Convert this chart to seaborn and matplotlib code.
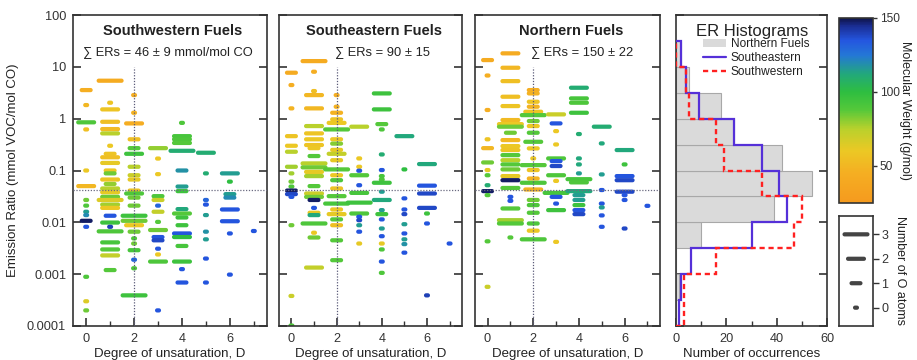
import numpy as np
import pandas as pd
import matplotlib
matplotlib.use("Agg")
import matplotlib.pyplot as plt
import seaborn as sns
from matplotlib.path import Path
from matplotlib.colors import LinearSegmentedColormap, Normalize
from matplotlib.ticker import FixedLocator, NullLocator, FuncFormatter
from matplotlib.lines import Line2D
from matplotlib.patches import Patch

# ---------------- data ----------------
# Southwestern fuels: degree of unsaturation, emission ratio, molecular weight, number of O atoms
SW_D = [0]*15 + [1]*28 + [2]*23 + [3]*15 + [4]*18 + [5]*9 + [6]*8 + [7]
SW_ER = [3.56, 1.83, 0.85, 0.62, 0.10, 0.050, 0.027, 0.021, 0.016, 0.0138, 0.0107, 0.0082, 0.00089, 0.00030, 0.00020,
         5.4, 2.03, 1.51, 0.87, 0.63, 0.52, 0.30, 0.21, 0.18, 0.14, 0.10, 0.088, 0.067, 0.055, 0.045, 0.038, 0.031,
         0.027, 0.022, 0.019, 0.0134, 0.0099, 0.0082, 0.0067, 0.0041, 0.0030, 0.0023, 0.0012,
         2.85, 1.30, 0.81, 0.40, 0.27, 0.21, 0.118, 0.081, 0.067, 0.041, 0.036, 0.030, 0.021, 0.0134, 0.0107,
         0.0088, 0.0066, 0.0049, 0.0039, 0.0029, 0.0019, 0.0013, 0.00039,
         0.27, 0.17, 0.085, 0.032, 0.027, 0.021, 0.016, 0.0102, 0.0071, 0.0052, 0.0045, 0.0031, 0.0024, 0.00175, 0.00020,
         0.83, 0.46, 0.40, 0.34, 0.24, 0.10, 0.049, 0.040, 0.018, 0.0148, 0.0124, 0.0088, 0.0061, 0.0052, 0.0035,
         0.00175, 0.00125, 0.00069,
         0.22, 0.088, 0.027, 0.022, 0.0138, 0.0066, 0.0047, 0.0020, 0.00069,
         0.088, 0.061, 0.035, 0.030, 0.0177, 0.0105, 0.0061, 0.00098,
         0.0068]
SW_MW = [45, 50, 90, 55, 60, 50, 85, 90, 115, 120, 148, 135, 90, 65, 85,
         42, 58, 58, 55, 52, 75, 60, 58, 55, 62, 60, 85, 58, 80, 75, 62, 85, 65, 78, 60, 135, 95, 140, 90, 92, 88, 72, 88,
         45, 47, 44, 55, 88, 95, 75, 70, 62, 58, 90, 85, 85, 95, 85, 60, 85, 90, 85, 92, 130, 90, 95,
         80, 60, 60, 90, 70, 130, 72, 88, 85, 135, 138, 135, 60, 90, 135,
         90, 92, 90, 88, 110, 118, 115, 95, 112, 88, 95, 95, 135, 100, 92, 95, 135, 135,
         110, 110, 130, 135, 115, 118, 115, 135, 135,
         115, 100, 115, 120, 135, 135, 135, 135,
         135]
SW_NO = [1, 0, 2, 0, 0, 2, 0, 0, 0, 0, 1, 0, 0, 0, 0,
         3, 0, 2, 2, 2, 2, 0, 1, 2, 2, 1, 1, 2, 1, 2, 2, 2, 3, 2, 2, 1, 2, 0, 3, 2, 2, 2, 1,
         0, 0, 2, 1, 1, 2, 1, 1, 1, 1, 2, 1, 1, 3, 3, 2, 1, 0, 0, 1, 0, 0, 3,
         2, 0, 0, 1, 1, 0, 1, 0, 2, 1, 1, 0, 0, 2, 0,
         0, 2, 2, 2, 3, 1, 1, 1, 1, 2, 1, 1, 2, 2, 1, 2, 0, 1,
         2, 0, 0, 0, 0, 0, 0, 0, 0,
         2, 0, 1, 1, 2, 2, 0, 0,
         0]

# Southeastern fuels
SE_D = [0]*16 + [1]*26 + [2]*23 + [3]*14 + [4]*20 + [5]*10 + [6]*7 + [7]
SE_ER = [7.7, 4.45, 1.58, 0.46, 0.30, 0.23, 0.118, 0.088, 0.061, 0.049, 0.041, 0.035, 0.031, 0.0088, 0.00038, 0.000102,
         12.9, 8.05, 3.41, 2.85, 1.58, 0.72, 0.52, 0.40, 0.31, 0.27, 0.19, 0.137, 0.115, 0.094, 0.078, 0.050, 0.036,
         0.031, 0.027, 0.019, 0.0153, 0.0138, 0.0095, 0.0063, 0.0051, 0.00134,
         2.85, 1.70, 1.30, 0.97, 0.83, 0.62, 0.40, 0.33, 0.25, 0.21, 0.158, 0.105, 0.081, 0.065, 0.045, 0.032, 0.023,
         0.0177, 0.0144, 0.0114, 0.0088, 0.0045, 0.00186,
         0.70, 0.171, 0.118, 0.099, 0.081, 0.052, 0.037, 0.024, 0.0148, 0.0128, 0.0110, 0.0088, 0.0066, 0.0039,
         3.07, 1.51, 0.785, 0.62, 0.204, 0.102, 0.078, 0.067, 0.058, 0.039, 0.027, 0.0172, 0.0144, 0.0114, 0.0076,
         0.0054, 0.0039, 0.0030, 0.00175, 0.00106,
         0.46, 0.105, 0.029, 0.0177, 0.0144, 0.0092, 0.0061, 0.0047, 0.0038, 0.0026,
         0.133, 0.051, 0.036, 0.019, 0.0148, 0.0095, 0.00039,
         0.0039]
SE_MW = [42, 45, 48, 58, 60, 75, 78, 78, 85, 90, 148, 138, 135, 85, 70, 90,
         42, 45, 55, 50, 50, 75, 58, 60, 58, 60, 88, 75, 85, 62, 78, 88, 70, 85, 148, 135, 62, 112, 90, 60, 85, 72,
         45, 47, 47, 58, 60, 88, 60, 82, 62, 72, 62, 88, 60, 90, 58, 88, 92, 60, 62, 88, 55, 88, 88,
         75, 60, 60, 135, 88, 135, 92, 95, 90, 135, 138, 115, 135, 62,
         95, 95, 88, 90, 110, 135, 92, 90, 95, 115, 112, 115, 95, 135, 115, 135, 62, 90, 135, 90,
         112, 100, 135, 135, 138, 115, 135, 115, 118, 135,
         112, 135, 138, 138, 95, 135, 140,
         135]
SE_NO = [1, 0, 0, 1, 1, 1, 1, 0, 0, 0, 1, 1, 0, 0, 0, 0,
         3, 0, 0, 2, 2, 2, 2, 2, 2, 1, 1, 3, 3, 2, 2, 1, 2, 2, 1, 0, 1, 1, 3, 0, 1, 2,
         0, 0, 1, 1, 2, 3, 1, 1, 1, 2, 1, 3, 1, 1, 1, 2, 3, 1, 2, 1, 1, 1, 1,
         2, 0, 0, 0, 2, 0, 2, 3, 2, 0, 0, 0, 0, 0,
         2, 2, 1, 0, 0, 0, 0, 0, 2, 0, 2, 0, 1, 0, 0, 0, 0, 0, 0, 0,
         2, 0, 0, 0, 0, 0, 0, 0, 0, 0,
         2, 2, 2, 2, 0, 0, 0,
         0]

# Northern fuels
N_D = [0]*13 + [1]*25 + [2]*23 + [3]*14 + [4]*16 + [5]*8 + [6]*8 + [7]
N_ER = [13.5, 6.8, 1.47, 0.40, 0.27, 0.143, 0.102, 0.081, 0.052, 0.040, 0.0335, 0.0043, 0.00057,
        18.2, 9.6, 5.3, 2.65, 1.75, 0.94, 0.785, 0.70, 0.535, 0.386, 0.296, 0.248, 0.198, 0.158, 0.131, 0.105,
        0.078, 0.065, 0.046, 0.031, 0.026, 0.0185, 0.0110, 0.0095, 0.0051,
        3.56, 3.07, 2.12, 1.70, 1.36, 1.17, 0.90, 0.72, 0.535, 0.358, 0.267, 0.171, 0.127, 0.102, 0.070, 0.058,
        0.043, 0.027, 0.0215, 0.0153, 0.0095, 0.0069, 0.0047,
        1.21, 0.81, 0.575, 0.318, 0.171, 0.152, 0.122, 0.081, 0.063, 0.037, 0.031, 0.023, 0.0172, 0.0042,
        3.95, 2.46, 2.03, 1.30, 0.505, 0.171, 0.131, 0.088, 0.068, 0.059, 0.040, 0.0335, 0.027, 0.0215, 0.0172, 0.0144,
        0.70, 0.333, 0.084, 0.042, 0.023, 0.0194, 0.0136, 0.0082,
        0.248, 0.131, 0.078, 0.065, 0.039, 0.0335, 0.027, 0.0076,
        0.0208]
N_MW = [42, 45, 45, 58, 50, 85, 62, 88, 110, 148, 88, 88, 70,
        42, 50, 55, 55, 58, 52, 60, 85, 85, 50, 60, 58, 88, 75, 88, 85, 62, 148, 88, 135, 135, 88, 78, 88, 88,
        45, 47, 58, 48, 58, 88, 85, 60, 88, 88, 60, 60, 88, 58, 48, 90, 48, 85, 90, 88, 90, 60, 90,
        70, 135, 60, 60, 90, 135, 138, 90, 60, 92, 135, 135, 95, 60,
        110, 92, 90, 95, 110, 112, 112, 115, 92, 90, 112, 115, 115, 95, 135, 138,
        110, 112, 115, 135, 135, 115, 135, 135,
        112, 95, 135, 138, 138, 135, 135, 138,
        135]
N_NO = [1, 0, 0, 0, 1, 1, 0, 0, 0, 1, 0, 0, 0,
        2, 2, 2, 2, 2, 2, 3, 3, 1, 2, 2, 2, 2, 2, 2, 2, 2, 2, 2, 0, 0, 2, 3, 3, 0,
        1, 1, 1, 1, 2, 3, 1, 1, 1, 2, 1, 0, 3, 1, 1, 3, 2, 1, 1, 1, 1, 1, 3,
        2, 1, 0, 0, 2, 1, 1, 2, 0, 3, 1, 0, 2, 0,
        2, 2, 2, 2, 0, 0, 0, 0, 3, 2, 3, 1, 1, 1, 1, 1,
        2, 0, 0, 0, 0, 0, 0, 0,
        2, 0, 2, 2, 2, 0, 0, 0,
        0]

PANEL_TITLES = ["Southwestern Fuels", "Southeastern Fuels", "Northern Fuels"]
PANEL_SUMS = ["\u2211 ERs = 46 \u00b1 9 mmol/mol CO", "\u2211 ERs = 90 \u00b1 15", "\u2211 ERs = 150 \u00b1 22"]
REF_ER = 0.042

# histogram (bins of half a decade, bottom -> top)
HIST_EDGES = [1e-4, 3.162e-4, 1e-3, 3.162e-3, 1e-2, 3.162e-2, 0.1, 0.3162, 1.0, 3.162, 10.0, 31.62]
HIST_NORTH = [0, 1, 0, 10, 39, 54, 42, 23, 18, 5, 2]
HIST_SE = [1, 2, 6, 30, 44, 41, 34, 23, 9, 4, 2]
HIST_SW = [3, 3, 16, 47, 50, 34, 19, 16, 5, 4, 0]
HIST_LABELS = ["Northern Fuels", "Southeastern", "Southwestern"]

O_LEVELS = [0, 1, 2, 3]
YTICKS = [1e-4, 1e-3, 1e-2, 1e-1, 1, 10, 100]

# ---------------- style ----------------
sns.set_style("white")
plt.rcParams["font.family"] = ["Liberation Sans", "DejaVu Sans"]
plt.rcParams["font.size"] = 9
plt.rcParams["text.color"] = "#222222"
plt.rcParams["axes.labelcolor"] = "#222222"
plt.rcParams["xtick.color"] = "#333333"
plt.rcParams["ytick.color"] = "#333333"

MW_NORM = Normalize(25, 150)
_cm_mw = [25, 45, 60, 75, 88, 100, 112, 125, 135, 145, 150]
_cm_col = ["#F59A1E", "#F5AE22", "#ECC824", "#B9D12C", "#55C83A", "#2EBE40",
           "#22A97A", "#2477D6", "#2456E0", "#1A2C90", "#0E1448"]
CMAP = LinearSegmentedColormap.from_list(
    "mw", list(zip([(m - 25) / 125 for m in _cm_mw], _cm_col)))

PX = 0.72  # points per pixel at dpi 100
DASH_W = {0: 6, 1: 13, 2: 20, 3: 27}   # px
DASH_H = 4.2                             # px


def stadium(w, h):
    a = 0.5
    b = 0.5 * h / w
    c = a - b
    t1 = np.linspace(-np.pi / 2, np.pi / 2, 12)
    t2 = np.linspace(np.pi / 2, 3 * np.pi / 2, 12)
    xs = np.concatenate([c + b * np.cos(t1), -c + b * np.cos(t2)])
    ys = np.concatenate([b * np.sin(t1), b * np.sin(t2)])
    verts = np.column_stack([xs, ys])
    verts = np.vstack([verts, verts[:1]])
    codes = [Path.MOVETO] + [Path.LINETO] * (len(verts) - 2) + [Path.CLOSEPOLY]
    return Path(verts, codes)


MARKERS = {n: stadium(DASH_W[n], DASH_H) for n in O_LEVELS}
SIZES = {n: (DASH_W[n] * PX) ** 2 for n in O_LEVELS}

fig = plt.figure(figsize=(9.17, 3.6), dpi=100)


def axpos(x0, x1, y0, y1):
    return [x0 / 917, 1 - y1 / 360, (x1 - x0) / 917, (y1 - y0) / 360]


SPINE = "#333333"


def style_spines(ax):
    for s in ax.spines.values():
        s.set_color(SPINE)
        s.set_linewidth(1.2)
        s.set_visible(True)


def style_logy(ax, labels):
    ax.set_yscale("log")
    ax.set_ylim(1e-4, 100)
    ax.yaxis.set_major_locator(FixedLocator(YTICKS))
    ax.yaxis.set_minor_locator(NullLocator())
    ax.yaxis.set_major_formatter(FuncFormatter(lambda v, p: f"{v:g}"))
    ax.tick_params(axis="y", which="major", direction="in", length=6, width=1.2,
                   left=True, right=True, labelleft=labels, labelsize=9.2, pad=5)


panels = [
    (SW_D, SW_ER, SW_MW, SW_NO, (73, 267), 0.515, 0.49),
    (SE_D, SE_ER, SE_MW, SE_NO, (279, 462), 0.52, 0.563),
    (N_D, N_ER, N_MW, N_NO, (475, 660), 0.519, 0.578),
]

for i, (d, er, mw, no, (x0, x1), tx, sx) in enumerate(panels):
    ax = fig.add_axes(axpos(x0, x1, 15, 326))
    df = pd.DataFrame({"D": d, "ER": er, "MW": mw, "nO": no})
    sns.scatterplot(data=df, x="D", y="ER", hue="MW", palette=CMAP, hue_norm=MW_NORM,
                    style="nO", markers=MARKERS, size="nO", sizes=SIZES,
                    linewidth=0, edgecolor="none", legend=False, ax=ax, zorder=2)
    style_logy(ax, i == 0)
    ax.set_xlim(-0.55, 7.55)
    ax.xaxis.set_major_locator(FixedLocator([0, 2, 4, 6]))
    ax.xaxis.set_minor_locator(FixedLocator([1, 3, 5, 7]))
    ax.tick_params(axis="x", which="major", direction="in", length=6, width=1.2,
                   bottom=True, top=False, labelsize=9.2, pad=5)
    ax.tick_params(axis="x", which="minor", direction="in", length=3.5, width=1.0,
                   bottom=True, top=False)
    ax.axhline(REF_ER, color="#6a6a80", lw=0.9, ls=(0, (1, 1.3)), zorder=3)
    ax.plot([2, 2], [1e-4, 10], color="#5a5a78", lw=0.9, ls=(0, (1, 1.3)), zorder=3)
    ax.set_xlabel("Degree of unsaturation, D", fontsize=9.5, labelpad=2)
    ax.set_ylabel("Emission Ratio (mmol VOC/mol CO)" if i == 0 else "", fontsize=9.5, labelpad=6)
    ax.text(tx, 0.95, PANEL_TITLES[i], transform=ax.transAxes, ha="center", va="center",
            fontsize=10.5, fontweight="bold")
    ax.text(sx, 0.882, PANEL_SUMS[i], transform=ax.transAxes, ha="center", va="center",
            fontsize=9.3)
    style_spines(ax)

# ---------------- histogram panel ----------------
axh = fig.add_axes(axpos(676, 827, 15, 326))
edges = np.array(HIST_EDGES)
axh.barh(edges[:-1], HIST_NORTH, height=np.diff(edges), align="edge",
         color="#dadada", edgecolor="#a8a8a8", linewidth=0.8, zorder=1)
axh.stairs(HIST_SE, edges, orientation="horizontal", color="#5530d8", lw=1.6, zorder=3)
axh.stairs(HIST_SW, edges, orientation="horizontal", color="#ff2020", lw=1.7,
           ls=(0, (2.2, 1.6)), zorder=4)
style_logy(axh, False)
axh.set_xlim(0, 60)
axh.xaxis.set_major_locator(FixedLocator([0, 20, 40, 60]))
axh.xaxis.set_minor_locator(FixedLocator([10, 30, 50]))
axh.tick_params(axis="x", which="major", direction="in", length=6, width=1.2,
                bottom=True, top=False, labelsize=9.2, pad=5)
axh.tick_params(axis="x", which="minor", direction="in", length=3.5, width=1.0,
                bottom=True, top=False)
axh.set_xlabel("Number of occurrences", fontsize=9.5, labelpad=2)
axh.text(0.507, 0.946, "ER Histograms", transform=axh.transAxes, ha="center", va="center",
         fontsize=12)
handles = [Patch(facecolor="#dadada", edgecolor="none"),
           Line2D([], [], color="#5530d8", lw=1.6),
           Line2D([], [], color="#ff2020", lw=1.7, ls=(0, (2.2, 1.6)))]
axh.legend(handles, HIST_LABELS, loc="upper left", bbox_to_anchor=(0.18, 0.925),
           frameon=False, fontsize=8.6, handlelength=1.9, handletextpad=0.4,
           labelspacing=0.15, borderpad=0, borderaxespad=0, handleheight=0.6)
style_spines(axh)

# ---------------- colorbar ----------------
cax = fig.add_axes(axpos(839, 873, 18, 203))
sm = plt.cm.ScalarMappable(norm=MW_NORM, cmap=CMAP)
cb = fig.colorbar(sm, cax=cax)
cb.set_ticks([50, 100, 150])
cb.ax.tick_params(direction="out", length=3, width=1.0, labelsize=8.6, pad=2, color=SPINE)
cb.outline.set_edgecolor(SPINE)
cb.outline.set_linewidth(1.2)
cb.set_label("Molecular Weight (g/mol)", rotation=270, fontsize=9, labelpad=8)

# ---------------- size legend (number of O atoms) ----------------
lax = fig.add_axes(axpos(839, 873, 216, 326))
leg_df = pd.DataFrame({"x": [0] * len(O_LEVELS), "y": O_LEVELS, "nO": O_LEVELS})
sns.scatterplot(data=leg_df, x="x", y="y", style="nO", markers=MARKERS, size="nO",
                sizes=SIZES, color="#444444", linewidth=0, edgecolor="none",
                legend=False, ax=lax)
lax.set_xlim(-1, 1)
lax.set_ylim(-0.75, 3.75)
lax.set_xticks([])
lax.yaxis.tick_right()
lax.yaxis.set_label_position("right")
lax.set_yticks(O_LEVELS)
lax.tick_params(axis="y", direction="out", length=4, width=1.0, labelsize=9, pad=2,
                left=False, right=True, color=SPINE)
lax.set_xlabel("")
lax.set_ylabel("Number of O atoms", rotation=270, fontsize=9, labelpad=13)
style_spines(lax)

fig.savefig("out.png", dpi=100)
